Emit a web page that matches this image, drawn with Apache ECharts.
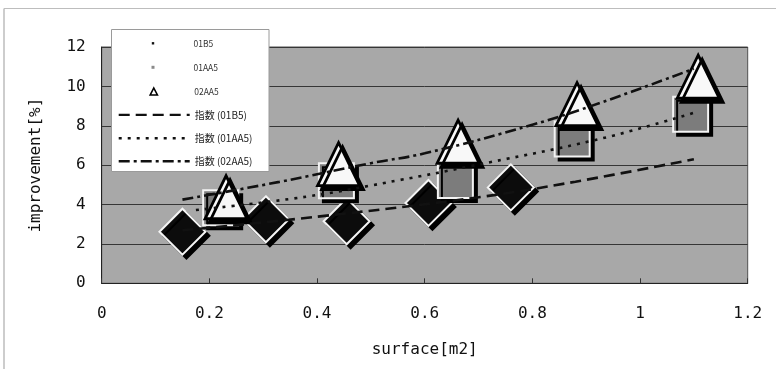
<!DOCTYPE html>
<html>
<head>
<meta charset="utf-8">
<script src="https://cdn.jsdelivr.net/npm/echarts@6/dist/echarts.min.js"></script>
<style>
  html, body { margin: 0; padding: 0; background: #fff; }
  #chart { width: 779px; height: 369px; }
</style>
</head>
<body>
<div id="chart"></div>
<script>
// Measured samples: surface [m2] vs improvement [%]
const xB5 = [0.15, 0.305, 0.455, 0.607, 0.76];
const yB5 = [2.62, 3.25, 3.15, 4.08, 4.87];
const xAA5_01 = [0.221, 0.436, 0.657, 0.874, 1.094];
const yAA5_01 = [3.84, 5.21, 5.22, 7.33, 8.59];
const xAA5_02 = [0.231, 0.44, 0.662, 0.883, 1.108];
const yAA5_02 = [4.37, 6.05, 7.19, 9.1, 10.49];

// Exponential trend curves (指数)
const trendXB5 = [0.15, 0.4, 0.7, 0.88, 1.1];
const trendYB5 = [2.69, 3.38, 4.37, 5.16, 6.3];
const trendXAA5_01 = [0.175, 0.38, 0.555, 0.68, 0.925, 1.1];
const trendYAA5_01 = [3.72, 4.4, 5.25, 5.92, 7.33, 8.66];
const trendXAA5_02 = [0.15, 0.33, 0.5, 0.6, 0.8, 0.93, 1.1];
const trendYAA5_02 = [4.25, 5.15, 6.1, 6.6, 8.05, 9.2, 10.9];

const seriesNames = ['01B5', '01AA5', '02AA5'];
const trendNames = ['指数 (01B5)', '指数 (01AA5)', '指数 (02AA5)'];

const xTicks = { min: 0, max: 1.2, interval: 0.2 };
const yTicks = { min: 0, max: 12, interval: 2 };

const pairs = (xs, ys) => xs.map((x, i) => [x, ys[i]]);

const axisFont = '"DejaVu Sans Mono", monospace';
const legendFont = '"Noto Sans CJK JP", "Noto Sans", sans-serif';

const markerShadow = {
  shadowColor: '#000',
  shadowBlur: 0,
  shadowOffsetX: 4,
  shadowOffsetY: 4
};

// Small legend glyphs; the leading moves pad the glyph's box to 14x14
const legendIcons = {
  dot: 'path://M0,0M14,14M5.8,5.8L8.2,5.8L8.2,8.2L5.8,8.2Z',
  square: 'path://M0,0M14,14M5.5,5.5L8.5,5.5L8.5,8.5L5.5,8.5Z',
  triangle: 'path://M0,0M14,14M7,3.2L10.6,10.2L3.4,10.2Z'
};

// marker legends are laid out from the glyph's own box (28.5px into the 71px slot)
const markerLegendLeft = 146;
const trendLegendLeft = 117.5;
function markerLegend(name, icon, style, top) {
  return {
    data: [{ name: name, icon: icon, itemStyle: style }],
    left: markerLegendLeft, top: top, padding: 0, z: 4,
    itemWidth: 71, itemHeight: 14, selectedMode: false,
    textStyle: { fontFamily: legendFont, fontSize: 8.5, color: '#333' }
  };
}
function trendLegend(name, top) {
  return {
    data: [{ name: name, itemStyle: { color: 'rgba(0,0,0,0)', borderWidth: 0 } }],
    left: trendLegendLeft, top: top, padding: 0, z: 4,
    itemWidth: 71, itemHeight: 14, selectedMode: false,
    lineStyle: { width: 2.4 },
    textStyle: { fontFamily: legendFont, fontSize: 10, color: '#222' }
  };
}

const chart = echarts.init(document.getElementById('chart'), null, { renderer: 'canvas' });

chart.setOption({
  animation: false,
  backgroundColor: '#fff',
  grid: {
    left: 101.7, right: 31.3, top: 47, bottom: 85.7,
    show: true,
    backgroundColor: '#a8a8a8',
    borderColor: '#505050',
    borderWidth: 1
  },
  graphic: [
    // outer frame
    { type: 'line', z: 1, shape: { x1: 4, y1: 8.5, x2: 776, y2: 8.5 }, style: { stroke: '#bdbdbd', lineWidth: 1 } },
    { type: 'line', z: 1, shape: { x1: 4, y1: 8.5, x2: 4, y2: 369 }, style: { stroke: '#bdbdbd', lineWidth: 1.5 } },
    // legend box
    { type: 'rect', z: 3, shape: { x: 111.5, y: 29.5, width: 157.5, height: 142 },
      style: { fill: '#fff', stroke: '#9a9a9a', lineWidth: 1 } }
  ],
  xAxis: {
    type: 'value',
    min: xTicks.min, max: xTicks.max, interval: xTicks.interval,
    name: 'surface[m2]',
    nameLocation: 'middle',
    nameGap: 59,
    nameTextStyle: { fontFamily: axisFont, fontSize: 16, color: '#111' },
    axisLine: { show: true, lineStyle: { color: '#222', width: 1 } },
    axisTick: { show: true, inside: true, length: 5, lineStyle: { color: '#333' } },
    axisLabel: { fontFamily: axisFont, fontSize: 16, color: '#111', margin: 23,
      formatter: v => String(Math.round(v * 10) / 10) },
    splitLine: { show: false }
  },
  yAxis: {
    type: 'value',
    min: yTicks.min, max: yTicks.max, interval: yTicks.interval,
    name: 'improvement[%]',
    nameLocation: 'middle',
    nameGap: 58,
    nameTextStyle: { fontFamily: axisFont, fontSize: 16, color: '#111' },
    axisLine: { show: true, lineStyle: { color: '#222', width: 1 } },
    axisTick: { show: false },
    axisLabel: { fontFamily: axisFont, fontSize: 16, color: '#111', margin: 16 },
    splitLine: { show: true, lineStyle: { color: '#363636', width: 1 } }
  },
  legend: [
    markerLegend(seriesNames[0], legendIcons.dot, { color: '#111', borderWidth: 0 }, 36.3),
    markerLegend(seriesNames[1], legendIcons.square, { color: '#8a8a8a', borderWidth: 0 }, 60.3),
    markerLegend(seriesNames[2], legendIcons.triangle, { color: '#fff', borderColor: '#000', borderWidth: 1.6 }, 84),
    trendLegend(trendNames[0], 109.3),
    trendLegend(trendNames[1], 132.7),
    trendLegend(trendNames[2], 155.7)
  ],
  series: [
    {
      name: seriesNames[0], type: 'scatter',
      data: pairs(xB5, yB5),
      symbol: 'diamond', symbolSize: 46,
      itemStyle: Object.assign({ color: '#0c0c0c', borderColor: '#f4f4f4', borderWidth: 2, opacity: 1 }, markerShadow)
    },
    {
      name: seriesNames[1], type: 'scatter',
      data: pairs(xAA5_01, yAA5_01),
      symbol: 'rect', symbolSize: 35,
      itemStyle: Object.assign({ color: '#7c7c7c', borderColor: '#f4f4f4', borderWidth: 2, opacity: 1 }, markerShadow)
    },
    {
      name: seriesNames[2], type: 'scatter',
      data: pairs(xAA5_02, yAA5_02),
      symbol: 'triangle', symbolSize: [42, 43],
      itemStyle: Object.assign({ color: '#f8f8f8', borderColor: '#000', borderWidth: 2.8, opacity: 1 }, markerShadow)
    },
    {
      name: trendNames[0], type: 'line',
      data: pairs(trendXB5, trendYB5),
      symbol: 'none', smooth: 0.4,
      itemStyle: { color: '#111' },
      lineStyle: { color: '#111', width: 2.6, type: [11, 6] }
    },
    {
      name: trendNames[1], type: 'line',
      data: pairs(trendXAA5_01, trendYAA5_01),
      symbol: 'none', smooth: 0.4,
      itemStyle: { color: '#111' },
      lineStyle: { color: '#111', width: 2.6, type: [3, 6] }
    },
    {
      name: trendNames[2], type: 'line',
      data: pairs(trendXAA5_02, trendYAA5_02),
      symbol: 'none', smooth: 0.4,
      itemStyle: { color: '#111' },
      lineStyle: { color: '#111', width: 2.6, type: [11, 4, 3, 4] }
    }
  ]
});
</script>
</body>
</html>
